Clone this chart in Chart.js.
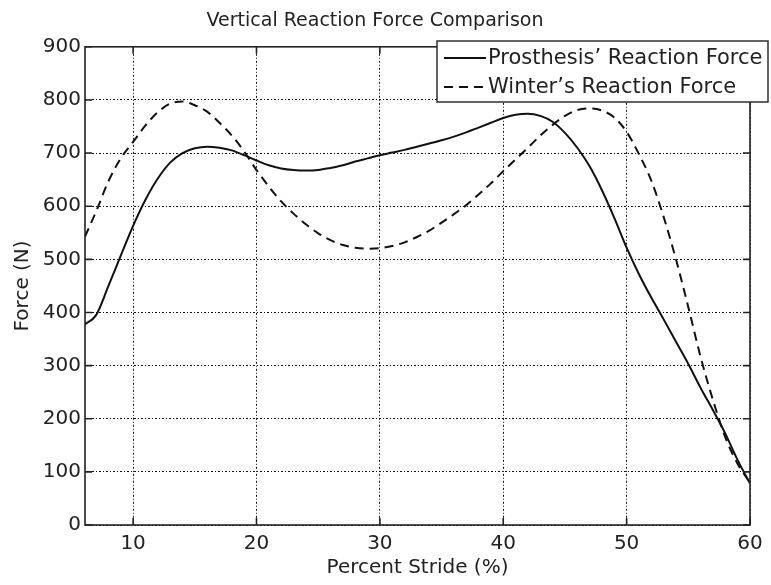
<!DOCTYPE html>
<html>
<head>
<meta charset="utf-8">
<script src="https://cdn.jsdelivr.net/npm/chart.js@4/dist/chart.umd.min.js"></script>
<style>
  html, body { margin: 0; padding: 0; background: #fff; }
  #wrap { width: 771px; height: 585px; }
</style>
</head>
<body>
<div id="wrap"><canvas id="myChart"></canvas></div>
<script>
// Percent stride (x) and vertical reaction force (N)
var strideX = [6.1, 7, 8, 9, 10, 11, 12, 13, 14, 15, 16, 17, 18, 19, 20,
  21, 22, 23, 24, 25, 26, 27, 28, 29, 30, 31, 32, 33, 34, 35, 36, 37, 38, 39, 40,
  41, 42, 43, 44, 45, 46, 47, 48, 49, 50, 51, 52, 53, 54, 55, 56, 57, 58, 59, 60];
var prosthesisForce = [378, 395, 450, 507, 563, 612, 652, 682, 700, 709, 712, 710, 705, 696, 686,
  677, 671, 668, 667, 668, 672, 677, 684, 690, 696, 701, 706, 712, 718, 724, 731, 739, 748, 757, 766,
  772, 774, 770, 759, 738, 710, 675, 630, 578, 522, 472, 428, 387, 345, 303, 258, 216, 172, 122, 78];
var winterForce = [543, 590, 647, 690, 721, 752, 777, 793, 797, 790, 778, 757, 733, 703, 668,
  637, 609, 586, 566, 549, 536, 527, 522, 520, 521, 525, 532, 542, 554, 569, 585, 602, 622, 643, 666,
  688, 710, 733, 753, 770, 781, 784, 780, 767, 740, 698, 648, 580, 500, 410, 316, 235, 165, 115, 80];
var xTicks = [10, 20, 30, 40, 50, 60];
var yTicks = [0, 100, 200, 300, 400, 500, 600, 700, 800, 900];

var seriesNames = ["Prosthesis\u2019 Reaction Force", "Winter\u2019s Reaction Force"];

function toPoints(ys) {
  return strideX.map(function (x, i) { return {x: x, y: ys[i]}; });
}

var textColor = "#222";
var fontFamily = "'DejaVu Sans', Verdana, sans-serif";

// box, inward ticks and legend in the MATLAB style
var matlabFrame = {
  id: "matlabFrame",
  afterDraw: function (chart) {
    var ctx = chart.ctx, a = chart.chartArea;
    var xs = chart.scales.x, ys = chart.scales.y;
    ctx.save();
    ctx.strokeStyle = "#222";
    ctx.lineWidth = 1.6;
    ctx.setLineDash([]);
    ctx.strokeRect(a.left, a.top, a.right - a.left, a.bottom - a.top);
    ctx.beginPath();
    xTicks.forEach(function (v) {
      var px = xs.getPixelForValue(v);
      ctx.moveTo(px, a.bottom); ctx.lineTo(px, a.bottom - 7);
      ctx.moveTo(px, a.top); ctx.lineTo(px, a.top + 7);
    });
    yTicks.forEach(function (v) {
      var py = ys.getPixelForValue(v);
      ctx.moveTo(a.left, py); ctx.lineTo(a.left + 7, py);
      ctx.moveTo(a.right, py); ctx.lineTo(a.right - 7, py);
    });
    ctx.stroke();

    // legend
    var bx = 437, by = 41, bw = 331, bh = 61;
    ctx.fillStyle = "#fff";
    ctx.fillRect(bx, by, bw, bh);
    ctx.lineWidth = 1.4;
    ctx.strokeRect(bx, by, bw, bh);
    ctx.font = "21px " + fontFamily;
    ctx.textBaseline = "middle";
    ctx.fillStyle = textColor;
    chart.data.datasets.forEach(function (ds, i) {
      var cy = by + 17 + i * 29;
      ctx.beginPath();
      ctx.strokeStyle = ds.borderColor;
      ctx.lineWidth = ds.borderWidth;
      ctx.setLineDash(ds.borderDash || []);
      ctx.moveTo(bx + 7, cy);
      ctx.lineTo(bx + 49, cy);
      ctx.stroke();
      ctx.setLineDash([]);
      ctx.fillText(ds.label, bx + 51, cy + 1);
    });
    ctx.restore();
  }
};

new Chart("myChart", {
  type: "line",
  data: {
    datasets: [{
      label: seriesNames[0],
      data: toPoints(prosthesisForce),
      borderColor: "#111",
      borderWidth: 2,
      pointRadius: 0,
      cubicInterpolationMode: "monotone",
      fill: false
    }, {
      label: seriesNames[1],
      data: toPoints(winterForce),
      borderColor: "#111",
      borderWidth: 2,
      borderDash: [9, 6],
      pointRadius: 0,
      cubicInterpolationMode: "monotone",
      fill: false
    }]
  },
  options: {
    responsive: true,
    maintainAspectRatio: false,
    animation: false,
    layout: {padding: {left: 0, right: 21, top: 0, bottom: 0}},
    plugins: {
      legend: {display: false},
      tooltip: {enabled: false},
      title: {
        display: true,
        text: "Vertical Reaction Force Comparison",
        color: textColor,
        font: {family: fontFamily, size: 19, weight: "normal", lineHeight: 1.2},
        padding: {top: 10, bottom: 14}
      }
    },
    scales: {
      x: {
        type: "linear",
        min: 6.1,
        max: 60,
        afterBuildTicks: function (scale) {
          scale.ticks = xTicks.map(function (v) { return {value: v}; });
        },
        afterFit: function (scale) { scale.height = 60; },
        grid: {color: "#111", lineWidth: 1, drawTicks: false},
        border: {display: false, dash: [2, 2, 1, 2]},
        ticks: {color: textColor, font: {family: fontFamily, size: 20}, padding: 7, maxRotation: 0},
        title: {
          display: true,
          text: "Percent Stride (%)",
          color: textColor,
          font: {family: fontFamily, size: 20, lineHeight: 1.2},
          padding: {top: 0, bottom: 5}
        }
      },
      y: {
        min: 0,
        max: 900,
        afterBuildTicks: function (scale) {
          scale.ticks = yTicks.map(function (v) { return {value: v}; });
        },
        afterFit: function (scale) { scale.width = 85; },
        grid: {color: "#111", lineWidth: 1, drawTicks: false},
        border: {display: false, dash: [2, 2, 1, 2]},
        ticks: {color: textColor, font: {family: fontFamily, size: 20}, padding: 4},
        title: {
          display: true,
          text: "Force (N)",
          color: textColor,
          font: {family: fontFamily, size: 20, lineHeight: 1.2},
          padding: {top: 11, bottom: 0}
        }
      }
    }
  },
  plugins: [matlabFrame]
});
</script>
</body>
</html>
